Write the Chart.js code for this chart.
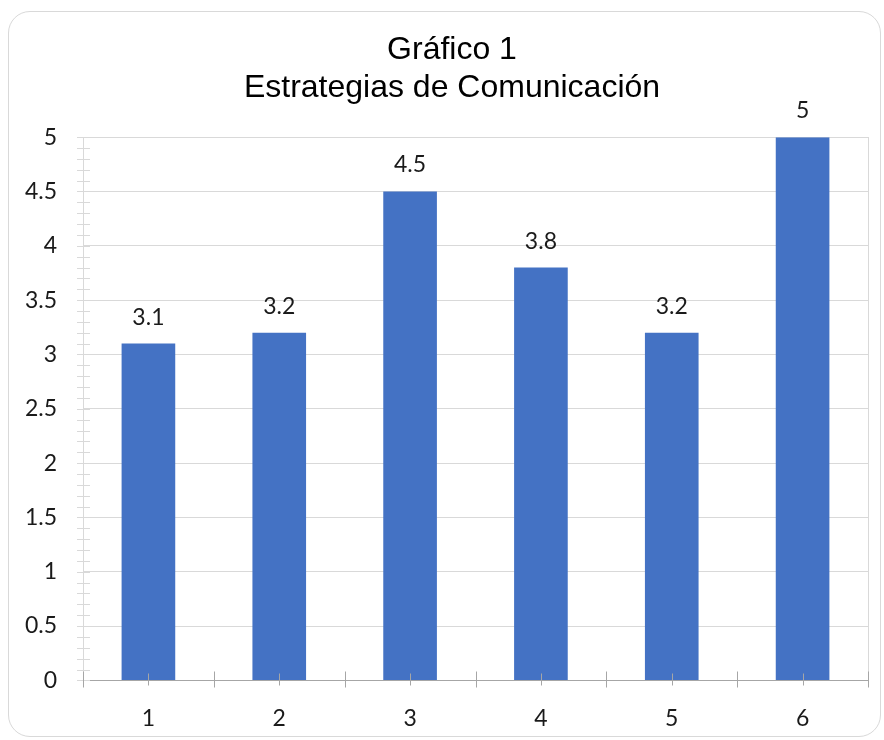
<!DOCTYPE html>
<html lang="es">
<head>
<meta charset="UTF-8">
<style>
body {
    margin: 0;
    padding: 0;
    background: #fff;
}

.frame {
    position: absolute;
    left: 8px;
    top: 11px;
    width: 873px;
    height: 726px;
    border: 1px solid #d9d9d9;
    border-radius: 22px;
    box-sizing: border-box;
}

.chart-box {
    position: absolute;
    left: 0;
    top: 0;
    width: 884px;
    height: 740px;
}
</style>
</head>
<body>
<div class="frame"></div>
<div class="chart-box">
<canvas id="chart"></canvas>
</div>
<script src="https://cdn.jsdelivr.net/npm/chart.js"></script>
<script>
const categories = ['1', '2', '3', '4', '5', '6'];
const values = [3.1, 3.2, 4.5, 3.8, 3.2, 5];
const titleLines = ['Gráfico 1', 'Estrategias de Comunicación'];

const tickFont = "Lato, 'Open Sans', sans-serif";

// value labels above each bar (datalabels plugin not available offline)
const barLabels = {
    id: 'barLabels',
    afterDatasetsDraw(chart) {
        const c = chart.ctx;
        const meta = chart.getDatasetMeta(0);
        c.save();
        c.font = '23px ' + tickFont;
        c.fillStyle = '#1a1a1a';
        c.textAlign = 'center';
        c.textBaseline = 'alphabetic';
        meta.data.forEach((bar, i) => {
            c.fillText(String(values[i]), bar.x, bar.y - 19);
        });
        c.restore();
    }
};

// small tick marks crossing the axes, like the spreadsheet chart
const axisTicks = {
    id: 'axisTicks',
    afterDraw(chart) {
        const c = chart.ctx;
        const x = chart.scales.x;
        const y = chart.scales.y;
        c.save();
        c.lineWidth = 1;

        // y minor / major ticks
        c.strokeStyle = '#d9d9d9';
        y.ticks.forEach((t) => {
            const py = Math.round(y.getPixelForValue(t.value)) + 0.5;
            c.beginPath();
            c.moveTo(x.left - 6, py);
            c.lineTo(x.left + 7, py);
            c.stroke();
        });

        // x ticks at category centres and boundaries
        c.strokeStyle = '#a6a6a6';
        const base = Math.round(y.bottom) + 0.5;
        for (let i = -0.5; i <= categories.length - 0.5; i += 0.5) {
            const px = Math.round(x.getPixelForValue(i)) + 0.5;
            const edge = (i % 1 !== 0);
            c.beginPath();
            c.moveTo(px, base - (edge ? 9 : 7));
            c.lineTo(px, base + (edge ? 7 : 5));
            c.stroke();
        }
        c.restore();
    }
};

const chart = new Chart(document.getElementById('chart'), {
    type: 'bar',
    data: {
        labels: categories,
        datasets: [{
            data: values,
            backgroundColor: '#4472c4',
            borderWidth: 0,
            categoryPercentage: 1,
            barPercentage: 0.41
        }]
    },
    options: {
        responsive: true,
        maintainAspectRatio: false,
        animation: false,
        layout: {
            // uneven sides so the title sits where the original has it
            padding: { left: 14, right: -6, top: 0, bottom: -8 }
        },
        scales: {
            x: {
                grid: { display: false },
                border: { color: '#a6a6a6', width: 1 },
                ticks: {
                    color: '#1a1a1a',
                    padding: 16,
                    font: { family: tickFont, size: 23 }
                }
            },
            y: {
                min: 0,
                max: 5,
                afterFit: (s) => { s.width = 69; },
                grid: {
                    drawTicks: false,
                    color: (ctx) => {
                        const v = ctx.tick ? ctx.tick.value : 0;
                        return Math.abs(v * 2 - Math.round(v * 2)) < 1e-6 ? '#d9d9d9' : 'rgba(0,0,0,0)';
                    }
                },
                border: { color: '#d9d9d9', width: 1 },
                ticks: {
                    stepSize: 0.1,
                    autoSkip: false,
                    color: '#1a1a1a',
                    padding: 26,
                    font: { family: tickFont, size: 23 },
                    callback: (v) => {
                        const r = Math.round(v * 10) / 10;
                        return Math.abs(r * 2 - Math.round(r * 2)) < 1e-6 ? String(r) : '';
                    }
                }
            },
            y2: {
                position: 'right',
                min: 0,
                max: 5,
                afterFit: (s) => { s.width = 22; },
                grid: { display: false },
                border: { color: '#d9d9d9', width: 1 },
                ticks: { display: false }
            }
        },
        plugins: {
            legend: { display: false },
            tooltip: { enabled: false },
            title: {
                display: true,
                text: titleLines,
                color: '#000',
                font: { family: "'Liberation Sans', Arial, sans-serif", size: 32, weight: 'normal', lineHeight: 1.19 },
                padding: { top: 31, bottom: 30 }
            }
        }
    },
    plugins: [barLabels, axisTicks]
});
</script>
</body>
</html>
